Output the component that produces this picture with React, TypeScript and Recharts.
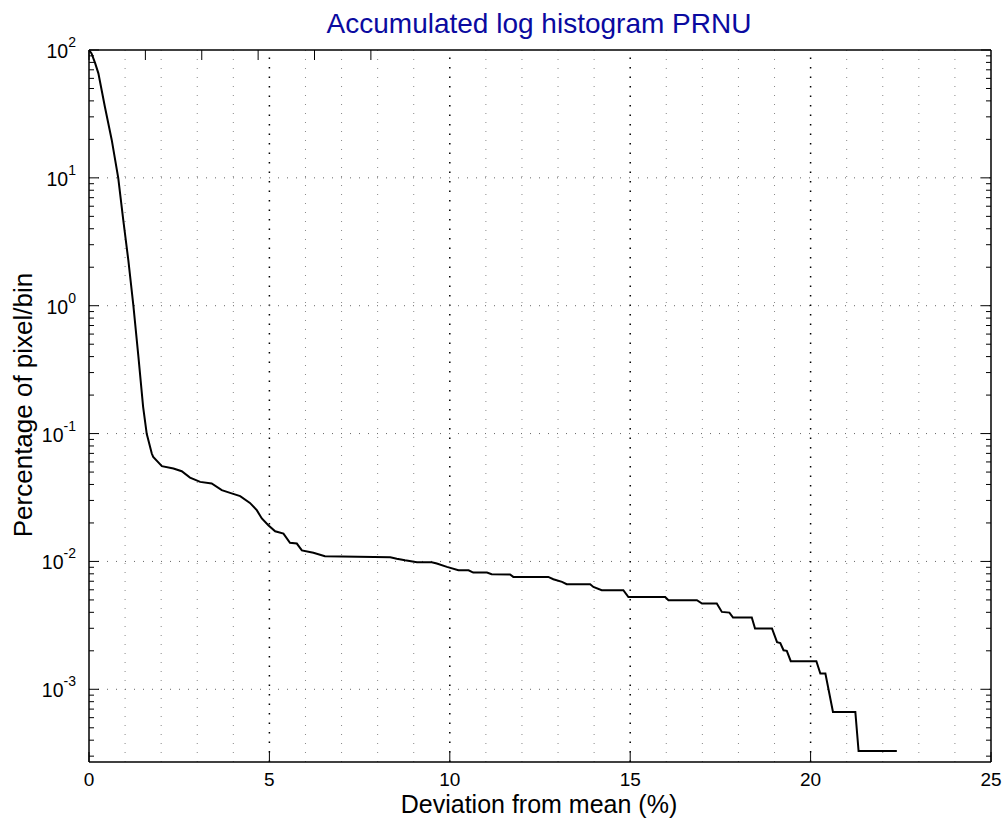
import React from 'react';
import { LineChart, Line, XAxis, YAxis, ReferenceLine } from 'recharts';

// deviation from mean (%) and accumulated percentage of pixel/bin
const deviation = [
  0, 0.07, 0.17, 0.26, 0.44, 0.63, 0.81, 0.95, 1.09, 1.23, 1.37, 1.5, 1.6, 1.74, 1.78,
  2.02, 2.34, 2.57, 2.8, 3.08, 3.4, 3.68, 3.91, 4.19, 4.46, 4.65, 4.79, 4.97,
  5.16, 5.39, 5.57, 5.76, 5.9, 6.22, 6.54, 8.35, 8.53, 8.76, 9.09, 9.5, 9.64,
  9.92, 10.24, 10.52, 10.65, 11.03, 11.16, 11.67, 11.76, 12.73, 12.87, 13.11,
  13.24, 13.89, 13.98, 14.21, 14.81, 14.95, 15.97, 16.06, 16.85, 16.99, 17.4,
  17.54, 17.75, 17.85, 18.37, 18.46, 18.93, 19.07, 19.16, 19.25, 19.34, 19.45,
  20.16, 20.27, 20.41, 20.62, 21.24, 21.33, 22.39,
];
const percent = [
  100, 94, 79, 65.7, 36.0, 19.8, 10, 4.68, 2.27, 1.0, 0.398, 0.162, 0.0995, 0.0698,
  0.0657, 0.0556, 0.0533, 0.0508, 0.0453, 0.0419, 0.0407, 0.0361, 0.0344, 0.0324,
  0.0287, 0.0252, 0.0217, 0.0192, 0.0172, 0.0165, 0.014, 0.0138, 0.0122, 0.0117,
  0.011, 0.0108, 0.0105, 0.0102, 0.00986, 0.00986, 0.00964, 0.00906, 0.00853,
  0.00853, 0.00818, 0.00818, 0.00794, 0.0079, 0.00757, 0.00757, 0.00726,
  0.00692, 0.00664, 0.00664, 0.00632, 0.00596, 0.00596, 0.00527, 0.00527,
  0.00497, 0.00497, 0.00469, 0.00469, 0.00403, 0.00398, 0.00364, 0.00364,
  0.00299, 0.00299, 0.00234, 0.0023, 0.00202, 0.002, 0.00166, 0.00166, 0.00133,
  0.00133, 0.000664, 0.000664, 0.000329, 0.000329,
];

const xTicks = [0, 5, 10, 15, 20, 25];
const xMinorGrid = [1, 2, 3, 4, 6, 7, 8, 9, 11, 12, 13, 14, 16, 17, 18, 19, 21, 22, 23, 24];
const xMajorGrid = [5, 10, 15, 20];
const yDecades = [1e-3, 1e-2, 1e-1, 1, 10, 100];
const yMinorSteps = [2, 3, 4, 5, 6, 7, 8, 9];
const yDomain = [2.7e-4, 100];

const data = deviation.map((x, i) => ({ x, y: percent[i] }));

const yTicks = [
  3e-4, 4e-4, 5e-4, 6e-4, 7e-4, 8e-4, 9e-4,
  ...yDecades.flatMap((d) => (d < 100 ? [d, ...yMinorSteps.map((m) => d * m)] : [d])),
];

const font = 'Liberation Sans, Arial, Helvetica, sans-serif';

const isDecade = (v: number) => {
  const l = Math.log10(v);
  return Math.abs(l - Math.round(l)) < 1e-6;
};

const BottomTick = ({ x, y, payload }: any) => (
  <g>
    <line x1={x} y1={y} x2={x} y2={y - 10} stroke="#000" strokeWidth={1} />
    <text x={x} y={y + 24} textAnchor="middle" fontSize={19} fontFamily={font} fill="#000">
      {payload.value}
    </text>
  </g>
);

const TopTick = ({ x, y }: any) => (
  <line x1={x} y1={y} x2={x} y2={y + 10} stroke="#000" strokeWidth={1} />
);

const LeftTick = ({ x, y, payload }: any) => {
  const v = payload.value;
  const major = isDecade(v);
  const exp = Math.round(Math.log10(v));
  return (
    <g>
      <line x1={x} y1={y} x2={x + (major ? 10 : 5)} y2={y} stroke="#000" strokeWidth={1} />
      {major && (
        <text x={x - 13} y={y + 8} textAnchor="end" fontSize={19.5} fontFamily={font} fill="#000">
          10
          <tspan dy={-11} fontSize={14}>
            {exp}
          </tspan>
        </text>
      )}
    </g>
  );
};

const RightTick = ({ x, y, payload }: any) => {
  const major = isDecade(payload.value);
  return <line x1={x} y1={y} x2={x - (major ? 10 : 5)} y2={y} stroke="#000" strokeWidth={1} />;
};

export default function App() {
  return (
    <div style={{ position: 'absolute', left: 0, top: 0, width: 1003, height: 821, background: '#fff' }}>
      <LineChart width={1003} height={821} data={data} margin={{ top: 0, right: 0, bottom: 0, left: 0 }}>
        <XAxis
          dataKey="x"
          type="number"
          domain={[0, 25]}
          ticks={xTicks}
          interval={0}
          allowDataOverflow
          height={59}
          tickSize={0}
          tickMargin={0}
          tickLine={false}
          axisLine={{ stroke: '#000', strokeWidth: 1.5 }}
          tick={<BottomTick />}
        />
        <XAxis
          xAxisId="top"
          orientation="top"
          type="number"
          domain={[0, 25]}
          ticks={xTicks}
          interval={0}
          allowDataOverflow
          height={50}
          tickSize={0}
          tickMargin={0}
          tickLine={false}
          axisLine={{ stroke: '#000', strokeWidth: 1.5 }}
          tick={<TopTick />}
        />
        <YAxis
          dataKey="y"
          scale="log"
          type="number"
          domain={yDomain}
          ticks={yTicks}
          interval={0}
          allowDataOverflow
          width={89}
          tickSize={0}
          tickMargin={0}
          tickLine={false}
          axisLine={{ stroke: '#000', strokeWidth: 1.5 }}
          tick={<LeftTick />}
        />
        <YAxis
          yAxisId="right"
          orientation="right"
          scale="log"
          type="number"
          domain={yDomain}
          ticks={yTicks}
          interval={0}
          allowDataOverflow
          width={12}
          tickSize={0}
          tickMargin={0}
          tickLine={false}
          axisLine={{ stroke: '#000', strokeWidth: 1.5 }}
          tick={<RightTick />}
        />
        {xMinorGrid.map((v) => (
          <ReferenceLine key={'xm' + v} x={v} stroke="#888" strokeWidth={1} strokeDasharray="1 8" />
        ))}
        {xMajorGrid.map((v) => (
          <ReferenceLine key={'xM' + v} x={v} stroke="#000" strokeWidth={1.5} strokeDasharray="1.5 8" />
        ))}
        {yDecades.slice(0, -1).map((v) => (
          <ReferenceLine key={'y' + v} y={v} stroke="#666" strokeWidth={1} strokeDasharray="1 8" />
        ))}
        <Line
          dataKey="y"
          type="linear"
          stroke="#000"
          strokeWidth={2}
          dot={false}
          isAnimationActive={false}
        />
      </LineChart>
      <svg
        width={1003}
        height={821}
        style={{ position: 'absolute', left: 0, top: 0, pointerEvents: 'none' }}
      >
        <text x={539} y={33} textAnchor="middle" fontSize={28} fontFamily={font} fill="#0a0aa0">
          Accumulated log histogram PRNU
        </text>
        <text x={539} y={813} textAnchor="middle" fontSize={25} fontFamily={font} fill="#000">
          Deviation from mean (%)
        </text>
        <text
          x={0}
          y={0}
          transform="translate(32 405) rotate(-90)"
          textAnchor="middle"
          fontSize={26}
          fontFamily={font}
          fill="#000"
        >
          Percentage of pixel/bin
        </text>
      </svg>
    </div>
  );
}
